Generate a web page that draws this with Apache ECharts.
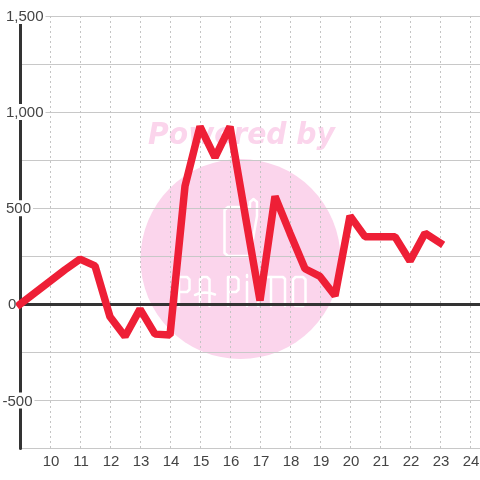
<!DOCTYPE html>
<html><head><meta charset="utf-8">
<style>html,body{margin:0;padding:0;background:#fff}#c{width:480px;height:480px}</style>
<script src="https://cdn.jsdelivr.net/npm/echarts@6/dist/echarts.min.js"></script>
</head><body><div id="c"></div>
<script>
const hours = [9,9.5,10,10.5,11,11.5,12,12.5,13,13.5,14,14.5,15,15.5,16,16.5,17,17.5,18,18.5,19,19.5,20,20.5,21,21.5,22,22.5,23];
const values = [0,60,120,180,235,200,-65,-167,-25,-155,-160,615,925,765,925,470,20,562,370,185,145,45,460,352,352,352,225,370,320];
const yTickLabels = {'-500':'{n|-500}','0':'{z|0}','500':'{p|500}','1000':'{p|1,000}','1500':'{p|1,500}'};
const xTickLabels = [10,11,12,13,14,15,16,17,18,19,20,21,22,23,24];

const chart = echarts.init(document.getElementById('c'), null, {renderer:'canvas'});
const hidden = {show:false};
const logoLines = [
  [[228,207],[250,207],[250,202],[253.5,199],[257,202],[257,216],[250,256],[228,256],[224.5,253],[224.5,210],[228,207]],
  [[179,306],[179,277],[187,277],[189.5,279.5],[189.5,289.5],[187,292],[179,292]],
  [[200,306],[200,279.5],[202.5,277],[207,277],[209.5,279.5],[209.5,306]],
  [[195,295],[200,293],[205,292.5],[210,293],[215,294.5]],
  [[228,306],[228,277],[236,277],[238.5,279.5],[238.5,289.5],[236,292],[228,292]],
  [[247,306],[247,282]],
  [[247,275],[247,277]],
  [[258,306],[258,277],[283,277],[285,279],[285,306]],
  [[271,306],[271,277]],
  [[295.5,277],[303,277],[305.5,279.5],[305.5,303.5],[303,306],[295.5,306],[293,303.5],[293,279.5],[295.5,277]]
];
const logoEls = logoLines.map(points=>({type:'polyline',z:-1,silent:true,shape:{points},
  style:{fill:'none',stroke:'#fff',lineWidth:2.5,lineCap:'round',lineJoin:'round'}}));
chart.setOption({
  animation:false,
  backgroundColor:'#fff',
  grid:{left:20,right:0,top:16,bottom:31.5,outerBoundsMode:'none'},
  graphic:{elements:[
    {type:'circle',z:-3,silent:true,shape:{cx:240.5,cy:259,r:100},style:{fill:'#fbd5ec'}},
    {type:'text',z:-3,silent:true,x:241.5,y:136.5,scaleX:0.94,style:{x:0,y:0,text:'Powered by',align:'center',verticalAlign:'middle',fill:'#fbd5ec',font:'italic bold 30px "DejaVu Sans"'}},
    ...logoEls
  ]},
  xAxis:[{
    type:'value',min:9,max:24.333,interval:1,position:'bottom',
    axisLine:{onZero:false,show:false},axisTick:hidden,
    axisLabel:{showMinLabel:false,showMaxLabel:false,color:'#444',fontFamily:'Liberation Sans',fontSize:15,margin:6,padding:[0,0,0,2],
      formatter:v=>xTickLabels.includes(v)?String(v):''},
    splitLine:{show:true,showMaxLine:false,lineStyle:{type:[2,3],color:'#c4c4c4',width:1}}
  },{
    type:'value',min:9,max:24.333,interval:1,
    axisLine:{show:true,onZero:true,lineStyle:{color:'#333',width:3}},
    axisTick:hidden,axisLabel:hidden,splitLine:hidden
  }],
  yAxis:{
    type:'value',min:-750,max:1500,interval:250,
    axisLine:{show:true,onZero:false,lineStyle:{color:'#333',width:3}},
    axisTick:hidden,
    axisLabel:{inside:true,margin:-17.5,color:'#444',fontFamily:'Liberation Sans',fontSize:15,
      showMinLabel:false,backgroundColor:'#fff',padding:[2,2,0,0],
      rich:{
        n:{color:'#444',fontFamily:'Liberation Sans',fontSize:15,lineHeight:14},
        p:{color:'#444',fontFamily:'Liberation Sans',fontSize:15,lineHeight:14,padding:[0,0,0,3.5]},
        z:{color:'#444',fontFamily:'Liberation Sans',fontSize:15,lineHeight:14,padding:[0,0,0,5.5]}
      },
      formatter:v=>yTickLabels[v]||''},
    splitLine:{show:true,lineStyle:{type:'solid',color:'#c8c8c8',width:1}}
  },
  series:[{
    type:'line',data:hours.map((h,i)=>[h,values[i]]),xAxisIndex:0,symbol:'none',clip:false,z:5,
    lineStyle:{color:'#ee1f36',width:7.5,cap:'square',join:'bevel'}
  }]
});
</script></body></html>
